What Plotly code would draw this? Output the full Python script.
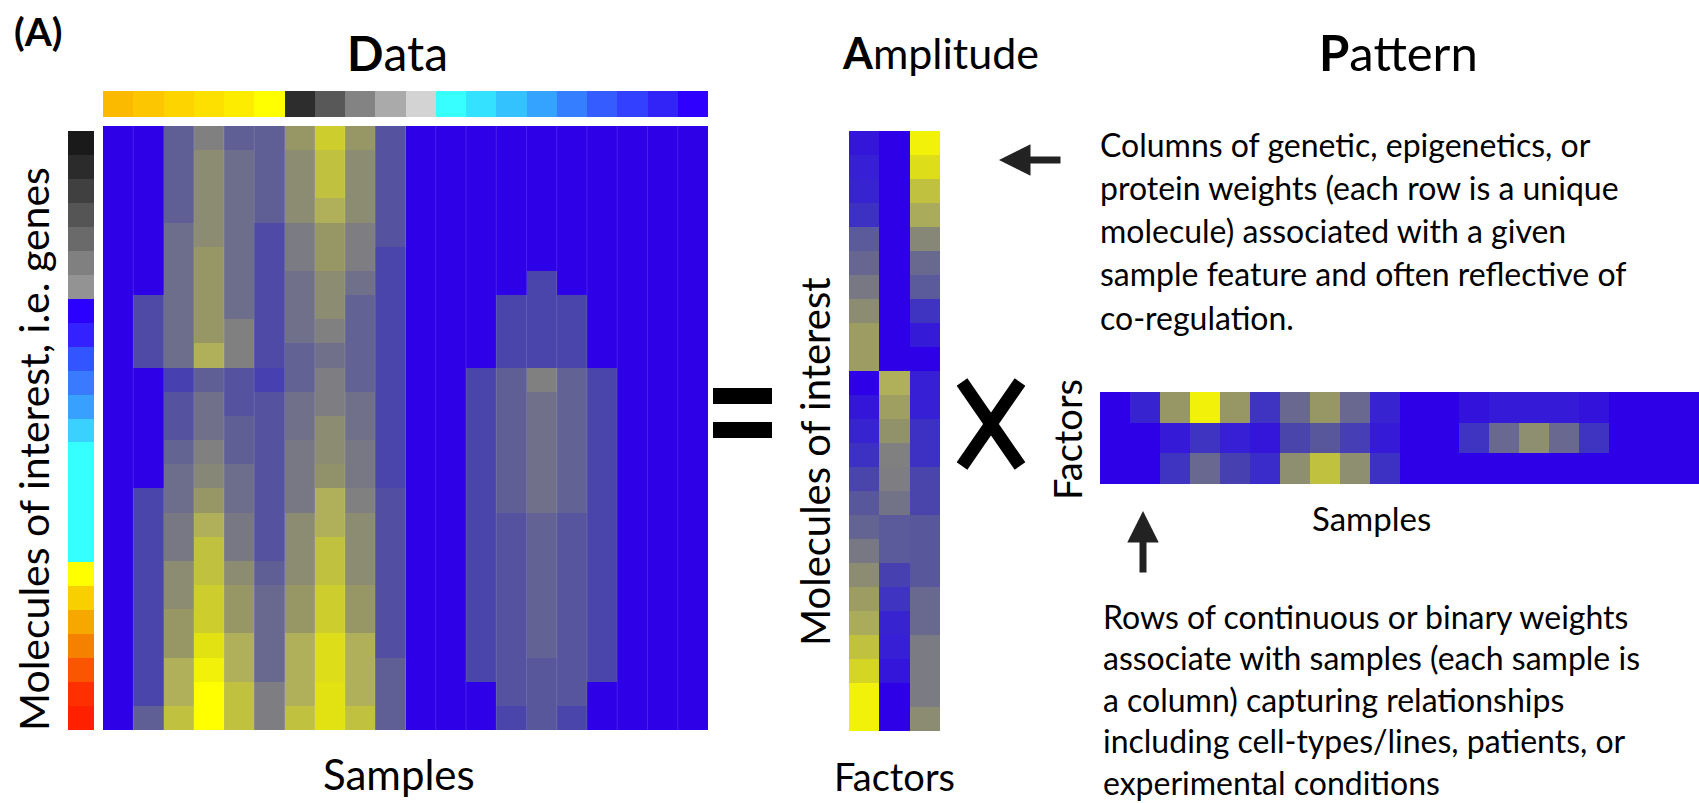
import plotly.graph_objects as go

W, H = 1699, 803

# ---------------- data ----------------
samples = [f"S{i+1}" for i in range(20)]
molecules = [f"M{i+1}" for i in range(25)]
factors = ["F1", "F2", "F3"]

sample_colors = ["#fbb900", "#fcc700", "#fdd400", "#fde000", "#feec00", "#ffff00",
                 "#2d2d2d", "#585858", "#838383", "#aaaaaa", "#d3d3d3",
                 "#38ffff", "#34e2ff", "#34c2ff", "#34a2ff", "#347eff", "#345cff",
                 "#3440ff", "#3224f6", "#3000ff"]

molecule_colors = ["#1a1a1a", "#2b2b2b", "#404040", "#555555", "#6a6a6a", "#808080", "#939393",
                   "#2c00ff", "#3322ff", "#3355ff", "#3a7aff", "#38a0ff", "#3ad0ff",
                   "#36ffff", "#36ffff", "#36ffff", "#36ffff", "#36ffff",
                   "#ffff00", "#f8d000", "#f6a800", "#f68000", "#fa5500", "#ff3000", "#ff2000"]

# Data matrix, one list per sample column (25 molecules each, top to bottom)
data_columns = [
    [0, 0, 0, 0, 0, 0, 0, 0, 0, 0, 0, 0, 0, 0, 0, 0, 0, 0, 0, 0, 0, 0, 0, 0, 0],
    [0, 0, 0, 0, 0, 0, 0, .22, .22, .22, 0, 0, 0, 0, 0, .2, .2, .2, .2, .2, .2, .2, .2, .2, .3],
    [.3, .3, .3, .3, .38, .38, .38, .38, .38, .38, .18, .25, .25, .33, .38, .38, .45, .45, .55, .55, .6, .6, .7, .7, .77],
    [.5, .55, .55, .55, .55, .6, .6, .6, .6, .7, .3, .4, .4, .5, .53, .6, .7, .77, .77, .82, .82, .9, .95, 1, 1],
    [.3, .38, .38, .38, .38, .38, .38, .38, .5, .5, .25, .25, .3, .3, .38, .38, .45, .45, .55, .6, .6, .7, .7, .77, .77],
    [.3, .3, .3, .3, .22, .22, .22, .22, .22, .22, .18, .25, .25, .25, .25, .25, .25, .25, .3, .36, .36, .36, .36, .48, .48],
    [.6, .55, .55, .55, .47, .47, .4, .4, .4, .32, .32, .4, .4, .45, .45, .45, .55, .55, .55, .6, .6, .7, .7, .7, .77],
    [.82, .77, .77, .7, .6, .6, .55, .55, .5, .4, .48, .48, .55, .55, .58, .7, .7, .77, .77, .82, .82, .88, .88, .9, .9],
    [.6, .55, .55, .55, .48, .48, .4, .32, .32, .32, .32, .4, .4, .45, .45, .5, .55, .55, .55, .6, .6, .7, .7, .7, .77],
    [.25, .25, .25, .25, .25, .2, .2, .2, .2, .2, .2, .2, .2, .2, .2, .24, .24, .24, .24, .24, .24, .24, .3, .3, .3],
    [0, 0, 0, 0, 0, 0, 0, 0, 0, 0, 0, 0, 0, 0, 0, 0, 0, 0, 0, 0, 0, 0, 0, 0, 0],
    [0, 0, 0, 0, 0, 0, 0, 0, 0, 0, 0, 0, 0, 0, 0, 0, 0, 0, 0, 0, 0, 0, 0, 0, 0],
    [0, 0, 0, 0, 0, 0, 0, 0, 0, 0, .2, .2, .2, .2, .2, .2, .2, .2, .2, .2, .2, .2, .2, 0, 0],
    [0, 0, 0, 0, 0, 0, 0, .2, .2, .2, .3, .3, .3, .3, .3, .3, .25, .25, .25, .25, .25, .25, .25, .25, .2],
    [0, 0, 0, 0, 0, 0, .2, .2, .2, .2, .5, .4, .4, .4, .4, .4, .32, .32, .32, .32, .32, .32, .27, .27, .27],
    [0, 0, 0, 0, 0, 0, 0, .2, .2, .2, .32, .32, .32, .32, .32, .32, .26, .26, .26, .26, .26, .26, .26, .26, .2],
    [0, 0, 0, 0, 0, 0, 0, 0, 0, 0, .2, .2, .2, .2, .2, .2, .2, .2, .2, .2, .2, .2, .2, 0, 0],
    [0, 0, 0, 0, 0, 0, 0, 0, 0, 0, 0, 0, 0, 0, 0, 0, 0, 0, 0, 0, 0, 0, 0, 0, 0],
    [0, 0, 0, 0, 0, 0, 0, 0, 0, 0, 0, 0, 0, 0, 0, 0, 0, 0, 0, 0, 0, 0, 0, 0, 0],
    [0, 0, 0, 0, 0, 0, 0, 0, 0, 0, 0, 0, 0, 0, 0, 0, 0, 0, 0, 0, 0, 0, 0, 0, 0],
]

# Amplitude matrix, one list per factor column
amplitude_columns = [
    [.05, .07, .08, .12, .28, .34, .45, .55, .62, .62, 0, .05, .08, .12, .2, .27, .33, .45, .55, .62, .68, .77, .85, .95, .95],
    [0, 0, 0, 0, 0, 0, 0, 0, 0, 0, .7, .63, .58, .5, .48, .42, .28, .28, .18, .13, .08, .07, .05, 0, 0],
    [.95, .88, .77, .68, .53, .36, .28, .13, .06, 0, .07, .07, .12, .12, .2, .2, .27, .27, .27, .36, .36, .47, .47, .47, .55],
]

# Pattern matrix, one list per factor row
pattern_f1 = [0, .08, .6, .95, .6, .13, .35, .6, .35, .08, 0, 0, .04, .06, .06, .06, .04, 0, 0, 0]
pattern_f2 = [0, 0, .06, .13, .07, .05, .2, .27, .17, .06, 0, 0, .13, .35, .56, .35, .13, 0, 0, 0]
pattern_f3 = [0, 0, .13, .35, .18, .1, .56, .77, .56, .12, 0, 0, 0, 0, 0, 0, 0, 0, 0, 0]

top_text = ["Columns of genetic, epigenetics, or",
            "protein weights (each row is a unique",
            "molecule) associated with a given",
            "sample feature and often reflective of",
            "co-regulation."]
bottom_text = ["Rows of continuous or binary weights",
               "associate with samples (each sample is",
               "a column) capturing relationships",
               "including cell-types/lines, patients, or",
               "experimental conditions"]

# ---------------- style ----------------
cscale = [[0.0, "#2e00e8"], [0.1, "#3a2ccb"], [0.2, "#4a45aa"], [0.3, "#5f5f96"],
          [0.4, "#70708a"], [0.5, "#808080"], [0.6, "#979765"], [0.7, "#b0b05a"],
          [0.8, "#c8c835"], [0.9, "#e2e212"], [1.0, "#ffff00"]]
FONT = "Lato"


def px(x):
    return x / W


def py(y):
    return 1 - y / H


def stepped(colors):
    n = len(colors)
    cs = []
    for i, c in enumerate(colors):
        cs.append([i / n, c])
        cs.append([(i + 1) / n, c])
    return cs


data_rows = [list(r) for r in zip(*data_columns)]
amp_rows = [list(r) for r in zip(*amplitude_columns)]
pattern_rows = [pattern_f1, pattern_f2, pattern_f3]

fig = go.Figure()
fig.add_trace(go.Heatmap(z=data_rows, x=samples, y=molecules, colorscale=cscale, zmin=0, zmax=1,
                         showscale=False, xaxis="x", yaxis="y"))
fig.add_trace(go.Heatmap(z=[list(range(len(samples)))], x=samples, y=["group"],
                         colorscale=stepped(sample_colors), zmin=-0.5, zmax=len(samples) - 0.5,
                         showscale=False, xaxis="x2", yaxis="y2"))
fig.add_trace(go.Heatmap(z=[[i] for i in range(len(molecules))], x=["group"], y=molecules,
                         colorscale=stepped(molecule_colors), zmin=-0.5, zmax=len(molecules) - 0.5,
                         showscale=False, xaxis="x3", yaxis="y3"))
fig.add_trace(go.Heatmap(z=amp_rows, x=factors, y=molecules, colorscale=cscale, zmin=0, zmax=1,
                         showscale=False, xaxis="x4", yaxis="y4"))
fig.add_trace(go.Heatmap(z=pattern_rows, x=samples, y=factors, colorscale=cscale, zmin=0, zmax=1,
                         showscale=False, xaxis="x5", yaxis="y5"))

ax = dict(showticklabels=False, showgrid=False, zeroline=False, ticks="", showline=False, fixedrange=True)
fig.update_layout(
    width=W, height=H, margin=dict(l=0, r=0, t=0, b=0),
    paper_bgcolor="white", plot_bgcolor="white", showlegend=False,
    xaxis=dict(ax, domain=[px(103), px(708)], anchor="y"),
    yaxis=dict(ax, domain=[py(730), py(126)], anchor="x", autorange="reversed"),
    xaxis2=dict(ax, domain=[px(103), px(708)], anchor="y2"),
    yaxis2=dict(ax, domain=[py(117), py(91)], anchor="x2"),
    xaxis3=dict(ax, domain=[px(68), px(94)], anchor="y3"),
    yaxis3=dict(ax, domain=[py(730), py(131)], anchor="x3", autorange="reversed"),
    xaxis4=dict(ax, domain=[px(849), px(940)], anchor="y4"),
    yaxis4=dict(ax, domain=[py(731), py(131)], anchor="x4", autorange="reversed"),
    xaxis5=dict(ax, domain=[px(1100), 1.0], anchor="y5"),
    yaxis5=dict(ax, domain=[py(484), py(392)], anchor="x5", autorange="reversed"),
)

# faint cell separators on the data heatmap
shapes = []
for i in range(len(samples) - 1):
    shapes.append(dict(type="line", xref="x", yref="y domain", x0=i + 0.5, x1=i + 0.5, y0=0, y1=1,
                       line=dict(color="rgba(255,255,255,0.13)", width=1)))
# "=" sign
shapes.append(dict(type="rect", xref="paper", yref="paper", x0=px(713), x1=px(772), y0=py(404), y1=py(388),
                   fillcolor="black", line=dict(width=0)))
shapes.append(dict(type="rect", xref="paper", yref="paper", x0=px(713), x1=px(772), y0=py(438), y1=py(422),
                   fillcolor="black", line=dict(width=0)))
# "x" sign
shapes.append(dict(type="line", xref="paper", yref="paper", x0=px(962), y0=py(382), x1=px(1020), y1=py(466),
                   line=dict(color="black", width=13)))
shapes.append(dict(type="line", xref="paper", yref="paper", x0=px(962), y0=py(466), x1=px(1020), y1=py(382),
                   line=dict(color="black", width=13)))
fig.update_layout(shapes=shapes)

ann = []


def label(text, x, y, size, xanchor="center", angle=0, bold=False):
    ann.append(dict(text=f"<b>{text}</b>" if bold else text, x=px(x), y=py(y), xref="paper", yref="paper",
                    xanchor=xanchor, yanchor="middle", showarrow=False, textangle=angle,
                    font=dict(family=FONT, size=size, color="black")))


label("(A)", 12, 31, 39, xanchor="left", bold=True)
label("<b>D</b>ata", 397, 52, 48)
label("<b>A</b>mplitude", 940, 52, 43)
label("<b>P</b>attern", 1398, 52, 49)
label("Molecules of interest, i.e. genes", 33, 449, 41, angle=-90)
label("Samples", 399, 774, 42)
label("Molecules of interest", 815, 462, 40, angle=-90)
label("Factors", 894, 776, 38)
label("Factors", 1067, 440, 38, angle=-90)
label("Samples", 1371, 518, 33)
for i, t in enumerate(top_text):
    label(t, 1098, 144 + 43.3 * i, 32, xanchor="left")
for i, t in enumerate(bottom_text):
    label(t, 1101, 616 + 41.5 * i, 32, xanchor="left")

# arrows
ann.append(dict(text="", x=px(999), y=py(160), xref="paper", yref="paper", showarrow=True,
                ax=63, ay=0, arrowhead=2, arrowsize=0.9, arrowwidth=7, arrowcolor="#222222"))
ann.append(dict(text="", x=px(1143), y=py(511), xref="paper", yref="paper", showarrow=True,
                ax=0, ay=63, arrowhead=2, arrowsize=0.9, arrowwidth=7, arrowcolor="#222222"))
fig.update_layout(annotations=ann)

fig.write_html("out.html", config={"displayModeBar": False},
               post_script="document.body.style.margin='0';document.body.style.overflow='hidden';")
